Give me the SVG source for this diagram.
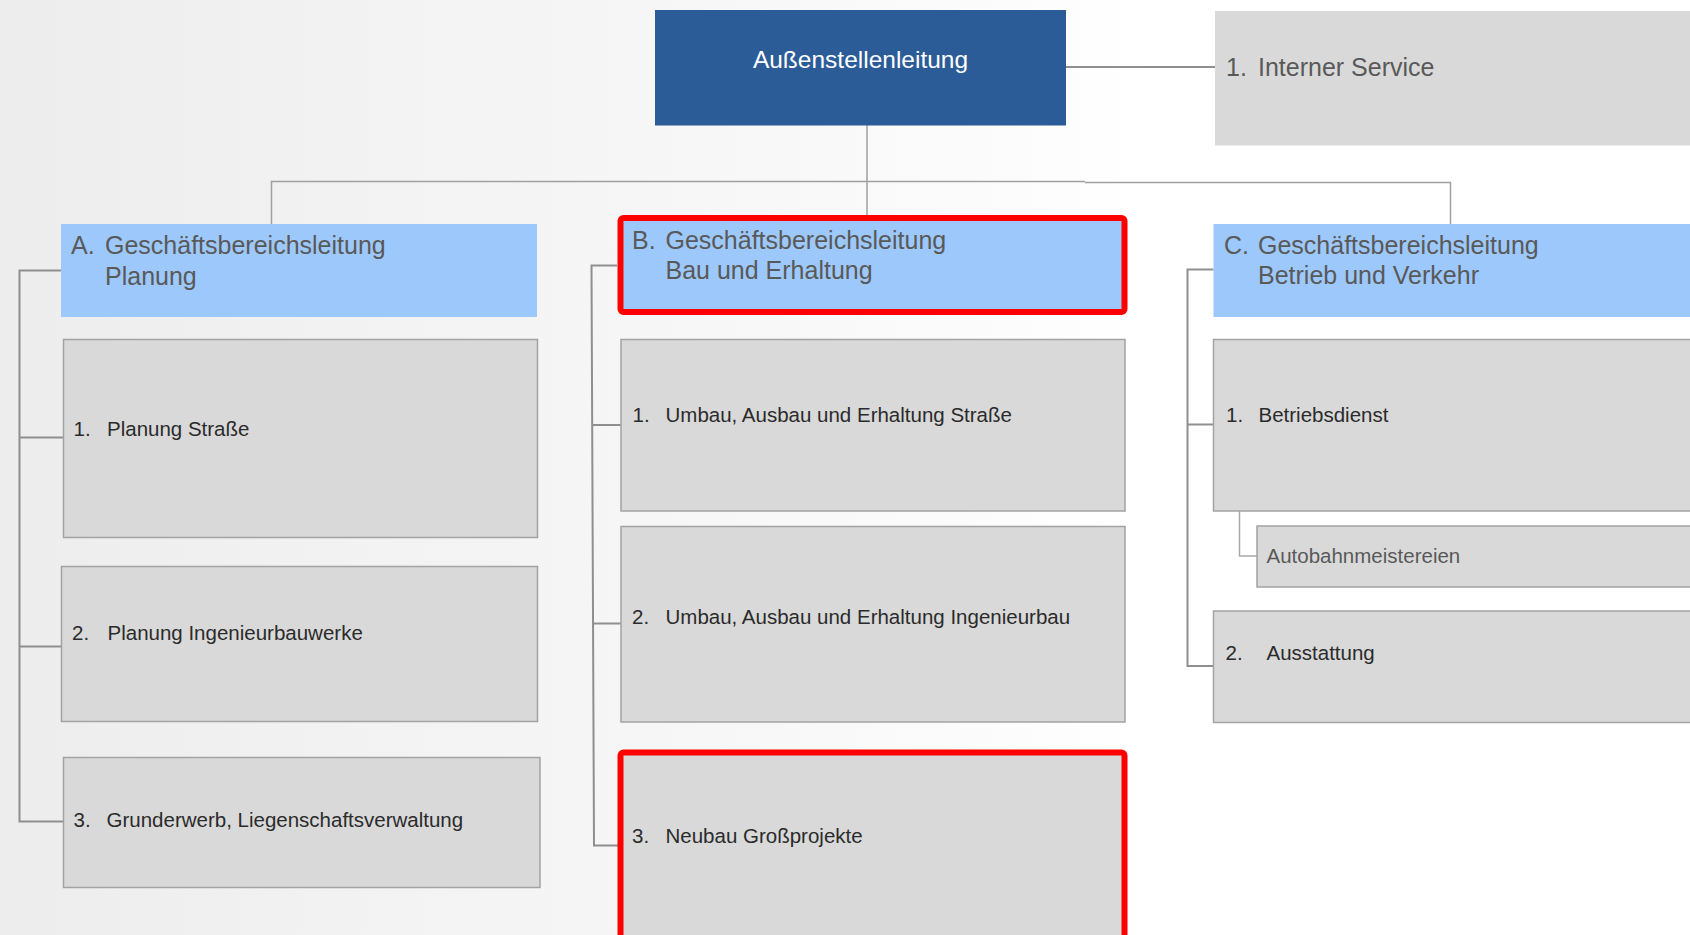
<svg xmlns="http://www.w3.org/2000/svg" width="1690" height="935" viewBox="0 0 1690 935">
<defs>
<linearGradient id="bg" x1="0" y1="0" x2="1" y2="0">
<stop offset="0" stop-color="#ededed"/>
<stop offset="0.5" stop-color="#f9f9f9"/>
<stop offset="0.68" stop-color="#ffffff"/>
<stop offset="1" stop-color="#ffffff"/>
</linearGradient>
<style>
.box{fill:#d9d9d9;stroke:#a3a3a3;stroke-width:1.5}
.hdr{fill:#9dc8fb}
.red{fill:none;stroke:#ff0000;stroke-width:6}
.con{fill:none;stroke:#8f8f8f;stroke-width:2}
.bus{fill:none;stroke:#a0a0a0;stroke-width:1.5}
.sub{fill:none;stroke:#a8a8a8;stroke-width:1.5}
.t{font-family:"Liberation Sans",Arial,sans-serif}
.h{font-size:25px;fill:#595959}
.i{font-size:20.5px;fill:#2b2b2b}
.g{font-size:20.5px;fill:#595959}
</style>
</defs>
<rect width="1690" height="935" fill="url(#bg)"/>

<g id="connectors">
<path class="bus" d="M867,125 V215"/>
<path class="bus" d="M271.5,224 V181.5 H1085 M1085,182.5 H1450.5 V224"/>
<path class="con" d="M1066,67 H1215"/>
<path class="con" d="M61,270.5 H19.5 V821.5 H63 M19.5,437.5 H63 M19.5,646.5 H61"/>
<path class="con" d="M617,265.5 H591.5 L594,845.5 H618 M592.3,425 H621 M593,623.5 H621"/>
<path class="con" d="M1213.5,269.5 H1187.5 V666 H1213.5 M1187.5,424.5 H1213.5"/>
<path class="sub" d="M1239.5,511 V556 H1257"/>
</g>

<g id="top">
<rect x="655" y="10" width="411" height="115.5" fill="#2b5c97"/>
<text class="t" x="860.5" y="68" font-size="24.5" fill="#ffffff" text-anchor="middle">Außenstellenleitung</text>
</g>

<g id="interner-service">
<rect x="1215" y="11" width="480" height="134.5" fill="#d9d9d9"/>
<text class="t h" y="75.5"><tspan x="1226">1. </tspan><tspan x="1258">Interner Service</tspan></text>
</g>

<g id="A">
<rect class="hdr" x="61" y="224" width="476" height="93"/>
<text class="t h"><tspan x="71" y="253.5">A. </tspan><tspan x="105" y="253.5">Geschäftsbereichsleitung</tspan><tspan x="105" y="284.5">Planung</tspan></text>
</g>
<g id="A1">
<rect class="box" x="63.5" y="339.5" width="474" height="198"/>
<text class="t i" y="435.5"><tspan x="73.5">1. </tspan><tspan x="107">Planung Straße</tspan></text>
</g>
<g id="A2">
<rect class="box" x="61.5" y="566.5" width="476" height="155"/>
<text class="t i" y="640"><tspan x="72">2. </tspan><tspan x="107.5">Planung Ingenieurbauwerke</tspan></text>
</g>
<g id="A3">
<rect class="box" x="63.5" y="757.5" width="476.5" height="130"/>
<text class="t i" y="827"><tspan x="73.5">3. </tspan><tspan x="106.5">Grunderwerb, Liegenschaftsverwaltung</tspan></text>
</g>

<g id="B">
<rect class="hdr" x="620" y="218" width="505" height="94"/>
<rect class="red" x="620.5" y="218" width="504" height="94" rx="3"/>
<text class="t h"><tspan x="632" y="248.5">B. </tspan><tspan x="665.5" y="248.5">Geschäftsbereichsleitung</tspan><tspan x="665.5" y="279">Bau und  Erhaltung</tspan></text>
</g>
<g id="B1">
<rect class="box" x="621" y="339.5" width="504" height="171.5"/>
<text class="t i" y="421.5"><tspan x="632.5">1. </tspan><tspan x="665.5">Umbau, Ausbau und Erhaltung Straße</tspan></text>
</g>
<g id="B2">
<rect class="box" x="621" y="526.5" width="504" height="195.5"/>
<text class="t i" y="624"><tspan x="632">2. </tspan><tspan x="665.5">Umbau, Ausbau und Erhaltung Ingenieurbau</tspan></text>
</g>
<g id="B3">
<rect x="620" y="752" width="505" height="200" fill="#d9d9d9"/>
<rect class="red" x="620.5" y="752.5" width="504" height="200" rx="3"/>
<text class="t i" y="843"><tspan x="632">3. </tspan><tspan x="665.5">Neubau Großprojekte</tspan></text>
</g>

<g id="C">
<rect class="hdr" x="1213.5" y="224" width="480" height="93"/>
<text class="t h"><tspan x="1224" y="253.5">C. </tspan><tspan x="1258" y="253.5">Geschäftsbereichsleitung</tspan><tspan x="1258" y="283.5">Betrieb und Verkehr</tspan></text>
</g>
<g id="C1">
<rect class="box" x="1213.5" y="339.5" width="480" height="171.5"/>
<text class="t i" y="421.5"><tspan x="1226">1. </tspan><tspan x="1258.5">Betriebsdienst</tspan></text>
</g>
<g id="C1a">
<rect class="box" x="1257" y="526" width="440" height="61"/>
<text class="t g" x="1266.5" y="562.5">Autobahnmeistereien</text>
</g>
<g id="C2">
<rect class="box" x="1213.5" y="611" width="480" height="111.5"/>
<text class="t i" y="660"><tspan x="1225.5">2. </tspan><tspan x="1266.5">Ausstattung</tspan></text>
</g>
</svg>
